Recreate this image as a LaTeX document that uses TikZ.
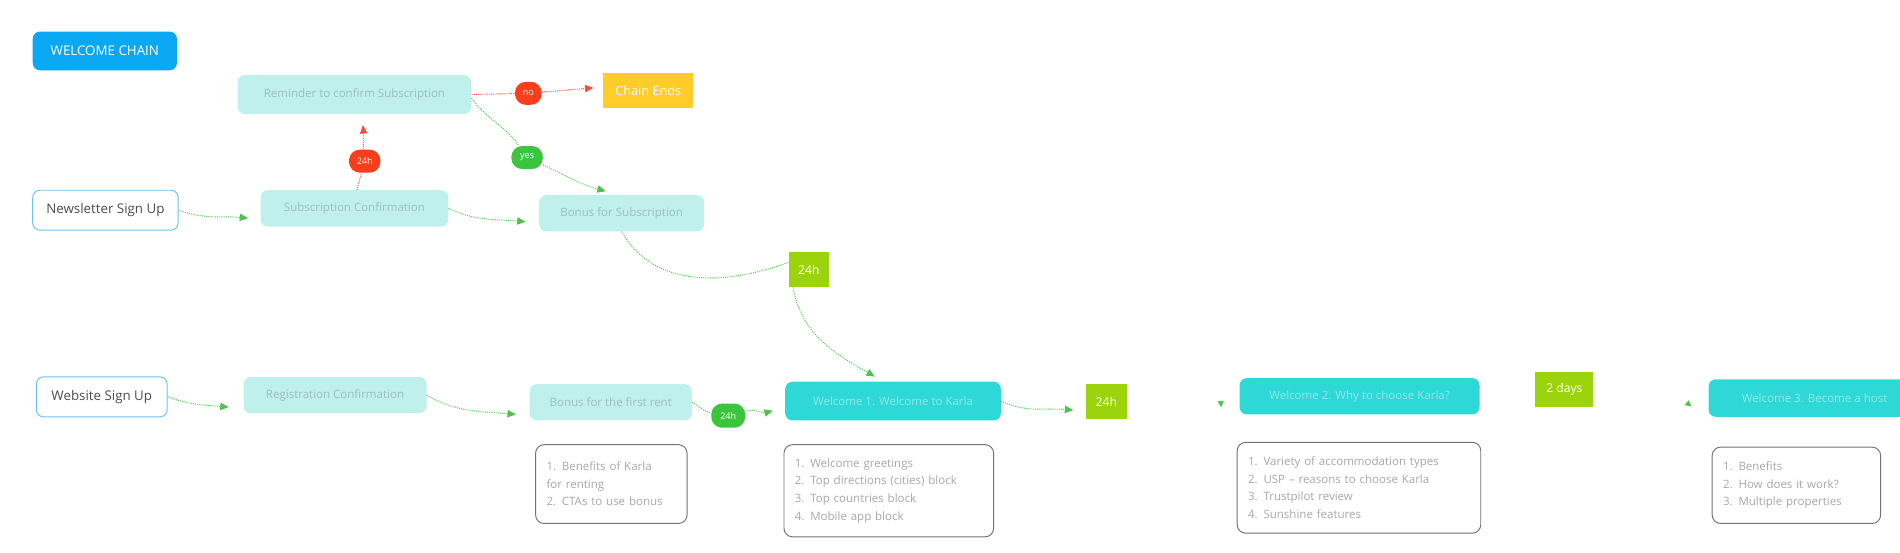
\documentclass[tikz,border=0pt]{standalone}
\usepackage{fontspec}
\setmainfont{Open Sans}
\usetikzlibrary{arrows.meta}

\definecolor{chainblue}{HTML}{0AA8F2}
\definecolor{palebox}{HTML}{BFF0EC}
\definecolor{tealbox}{HTML}{2ED8D6}
\definecolor{limebox}{HTML}{9BD30C}
\definecolor{redpill}{HTML}{FA3E1C}
\definecolor{greenpill}{HTML}{3CC43C}
\definecolor{endyellow}{HTML}{FFCC29}
\definecolor{flowgreen}{HTML}{4CC44C}
\definecolor{flowred}{HTML}{F0503C}
\definecolor{signborder}{HTML}{6EC3F0}
\definecolor{blurpale}{HTML}{9BBFBF}
\definecolor{blurteal}{HTML}{8EE9E8}
\definecolor{blurlist}{HTML}{A8A8A8}

\begin{document}
\begin{tikzpicture}[x=1pt, y=1pt,
  box/.style={rounded corners=6pt, inner sep=0pt, align=center,
    font=\fontsize{9.5}{12}\selectfont},
  palenode/.style={box, fill=palebox, text=blurpale},
  tealnode/.style={box, fill=tealbox, text=blurteal},
  signnode/.style={box, fill=white, draw=signborder, line width=0.8pt,
    text=black!70, font=\fontsize{11}{13}\selectfont},
  waitnode/.style={inner sep=0pt, fill=limebox, text=white,
    font=\fontsize{10}{12}\selectfont},
  pill/.style={rounded corners=9pt, inner sep=0pt, minimum height=19pt,
    text=white, font=\fontsize{7.5}{9}\selectfont},
  listnode/.style={rounded corners=7pt, draw=black!55, line width=0.8pt,
    fill=white, text=blurlist, align=left, inner xsep=9pt, inner ysep=0pt,
    font=\fontsize{9.5}{14.5}\selectfont},
  flow/.style={draw=flowgreen, densely dotted, line width=0.8pt,
    -{Triangle[length=7pt,width=6pt,color=flowgreen]}},
  flowplain/.style={draw=flowgreen, densely dotted, line width=0.8pt},
  alarm/.style={draw=flowred, densely dotted, line width=0.8pt,
    -{Triangle[length=7pt,width=6pt,color=flowred]}},
  ghost/.style={draw=flowgreen!2, line width=0.5pt,
    -{Triangle[length=5pt,width=5pt,color=flowgreen]}}]

  \useasboundingbox (0,0) rectangle (1568,456);
  \clip (0,0) rectangle (1568,456);

  % Title
  \node[box, fill=chainblue, text=white, minimum width=119pt, minimum height=32pt,
    font=\fontsize{11}{13}\selectfont] (title) at (86.5,414) {WELCOME CHAIN};

  % Newsletter branch
  \node[signnode, minimum width=120pt, minimum height=33pt] (news) at (87,282.5) {Newsletter Sign Up};
  \node[palenode, minimum width=155pt, minimum height=30pt] (subconf) at (292.5,284) {Subscription Confirmation};
  \node[palenode, minimum width=193pt, minimum height=32pt] (remind) at (292.5,378) {Reminder to confirm Subscription};
  \node[palenode, minimum width=136pt, minimum height=30pt] (bonsub) at (513,280) {Bonus for Subscription};
  \node[box, fill=endyellow, text=white, rounded corners=0pt, minimum width=74pt,
    minimum height=29pt, font=\fontsize{10.5}{12}\selectfont] (ends) at (535,381.5) {Chain Ends};
  \node[pill, fill=redpill, minimum width=26pt] (dayA) at (301,323) {24h};
  \node[pill, fill=redpill, minimum width=22pt] (no) at (436,379) {no};
  \node[pill, fill=greenpill, minimum width=26pt] (yes) at (435,326) {yes};
  \node[waitnode, minimum width=33pt, minimum height=29pt] (waitA) at (667.5,233.5) {24h};

  % Website branch
  \node[signnode, minimum width=108pt, minimum height=33pt] (web) at (84,128.5) {Website Sign Up};
  \node[palenode, minimum width=151pt, minimum height=30pt] (regconf) at (276.5,130) {Registration Confirmation};
  \node[palenode, minimum width=134pt, minimum height=30pt] (bonrent) at (504,124) {Bonus for the first rent};
  \node[pill, fill=greenpill, minimum width=28pt, minimum height=20pt] (dayB) at (601,113) {24h};

  % Welcome letters
  \node[tealnode, minimum width=178pt, minimum height=32pt] (welA) at (737,125) {Welcome 1. Welcome to Karla};
  \node[waitnode, minimum width=34pt, minimum height=29pt] (waitB) at (913,124.5) {24h};
  \node[tealnode, minimum width=198pt, minimum height=30pt] (welB) at (1122,129) {Welcome 2. Why to choose Karla?};
  \node[waitnode, minimum width=48pt, minimum height=29pt] (waitC) at (1291,134.5) {2 days};
  \node[tealnode, minimum width=175pt, minimum height=31pt] (welC) at (1497.5,127.5) {Welcome 3. Become a host};

  % Content lists
  \node[listnode, text width=107pt, minimum height=65pt] (listA) at (504.5,56.5)
    {1. Benefits of Karla\\for renting\\2. CTAs to use bonus};
  \node[listnode, text width=155pt, minimum height=76pt] (listB) at (733.5,51)
    {1. Welcome greetings\\2. Top directions (cities) block\\3. Top countries block\\4. Mobile app block};
  \node[listnode, text width=183pt, minimum height=75pt] (listC) at (1121.5,53.5)
    {1. Variety of accommodation types\\2. USP -- reasons to choose Karla\\3. Trustpilot review\\4. Sunshine features};
  \node[listnode, text width=121pt, minimum height=63pt] (listD) at (1482.5,55.5)
    {1. Benefits\\2. How does it work?\\3. Multiple properties};

  % Newsletter connectors
  \draw[flow] (news.east) to[out=-20,in=175] ([xshift=-10pt,yshift=-8pt]subconf.west);
  \draw[flow] (subconf.east) to[out=-25,in=175] ([xshift=-11pt,yshift=-7pt]bonsub.west);
  \draw[alarm] ([xshift=2pt]subconf.north) -- (dayA) to[out=95,in=-85] ([xshift=7pt,yshift=-9pt]remind.south);
  \draw[alarm] (remind.east) -- (no) -- ([xshift=-8pt,yshift=2pt]ends.west);
  \draw[flowplain] ([yshift=-3pt]remind.east) to[out=-55,in=125] (yes);
  \draw[flow] (yes) to[out=-25,in=165] ([xshift=-13pt,yshift=3pt]bonsub.north);
  \draw[flowplain] (bonsub.south) to[out=-60,in=200] ([yshift=6pt]waitA.west);
  \draw[flow] ([xshift=-13pt]waitA.south) to[out=-80,in=150] ([xshift=-15pt,yshift=4pt]welA.north);

  % Website connectors
  \draw[flow] (web.east) to[out=-20,in=175] ([xshift=-12pt,yshift=-10pt]regconf.west);
  \draw[flow] (regconf.east) to[out=-30,in=175] ([xshift=-11pt,yshift=-10pt]bonrent.west);
  \draw[flowplain] (bonrent.east) to[out=-30,in=170] (dayB);
  \draw[flow] (dayB) to[out=15,in=195] ([xshift=-10pt,yshift=-8pt]welA.west);
  \draw[flow] (welA.east) to[out=-25,in=175] ([xshift=-10pt,yshift=-7pt]waitB.west);
  \draw[ghost] (waitB.east) to[out=30,in=95] ([xshift=-15pt,yshift=-9pt]welB.west);
  \draw[ghost] (waitC.east) to[out=30,in=140] ([xshift=-14pt,yshift=-7pt]welC.west);
\end{tikzpicture}
\end{document}
